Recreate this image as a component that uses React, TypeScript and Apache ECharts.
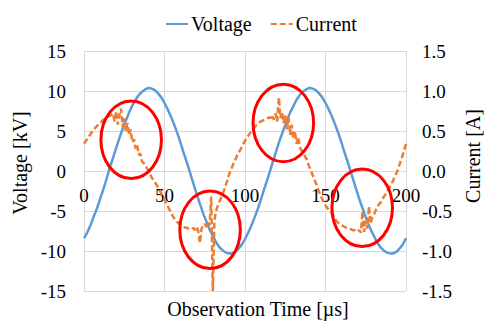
import React, { useEffect, useRef } from "react";
import * as echarts from "echarts";

// Voltage [kV], sampled every 2 µs from 0 to 200 µs
const voltageTimes: number[] = Array.from({ length: 101 }, (_, i) => i * 2);
const voltageValues: number[] = [
  -8.4, -7.7, -6.8, -5.7, -4.7, -3.5, -2.3, -1.0, 0.4, 1.6,
  2.9, 4.1, 5.3, 6.3, 7.3, 8.2, 8.9, 9.5, 9.9, 10.2,
  10.4, 10.3, 10.1, 9.7, 9.2, 8.5, 7.7, 6.8, 5.8, 4.7,
  3.5, 2.2, 1.0, -0.3, -1.6, -2.9, -4.1, -5.3, -6.3, -7.3,
  -8.1, -8.9, -9.5, -9.9, -10.2, -10.3, -10.3, -10.1, -9.7, -9.2,
  -8.5, -7.7, -6.8, -5.8, -4.7, -3.5, -2.2, -1.0, 0.3, 1.6,
  2.9, 4.1, 5.2, 6.3, 7.3, 8.1, 8.9, 9.5, 9.9, 10.2,
  10.4, 10.3, 10.1, 9.7, 9.2, 8.5, 7.7, 6.8, 5.8, 4.7,
  3.5, 2.2, 1.0, -0.3, -1.6, -2.9, -4.1, -5.2, -6.3, -7.3,
  -8.1, -8.9, -9.5, -9.9, -10.2, -10.3, -10.3, -10.1, -9.7, -9.2,
  -8.4,
];

// Current [A], sampled every 1 µs from 0 to 200 µs
const currentTimes: number[] = Array.from({ length: 201 }, (_, i) => i);
const currentValues: number[] = [
  0.34, 0.37, 0.40, 0.43, 0.46, 0.49, 0.52, 0.54, 0.56, 0.58,
  0.60, 0.62, 0.64, 0.65, 0.66, 0.68, 0.69, 0.70, 0.72, 0.62,
  0.75, 0.58, 0.70, 0.78, 0.55, 0.66, 0.50, 0.60, 0.45, 0.52,
  0.36, 0.40, 0.28, 0.33, 0.20, 0.22, 0.12, 0.10, 0.06, 0.04,
  0.00, -0.04, -0.08, -0.11, -0.14, -0.17, -0.21, -0.24, -0.28, -0.32,
  -0.36, -0.40, -0.44, -0.48, -0.52, -0.56, -0.59, -0.62, -0.64, -0.66,
  -0.68, -0.69, -0.70, -0.71, -0.71, -0.72, -0.72, -0.73, -0.71, -0.74,
  -0.70, -0.75, -0.90, -0.72, -0.69, -0.66, -0.70, -0.64, -0.68, -0.32,
  -1.50, -0.62, -0.50, -0.44, -0.39, -0.34, -0.29, -0.24, -0.18, -0.12,
  -0.05, 0.00, 0.05, 0.10, 0.14, 0.19, 0.23, 0.26, 0.30, 0.34,
  0.38, 0.41, 0.44, 0.47, 0.50, 0.53, 0.55, 0.57, 0.59, 0.61,
  0.62, 0.63, 0.64, 0.65, 0.66, 0.67, 0.66, 0.70, 0.64, 0.72,
  0.62, 0.92, 0.66, 0.74, 0.60, 0.70, 0.52, 0.68, 0.45, 0.58,
  0.40, 0.50, 0.34, 0.42, 0.30, 0.26, 0.22, 0.19, 0.16, 0.10,
  0.05, 0.00, -0.05, -0.10, -0.15, -0.20, -0.26, -0.31, -0.35, -0.39,
  -0.43, -0.46, -0.48, -0.50, -0.53, -0.56, -0.60, -0.63, -0.65, -0.66,
  -0.68, -0.69, -0.70, -0.71, -0.72, -0.72, -0.73, -0.74, -0.74, -0.75,
  -0.76, -0.74, -0.77, -0.50, -0.76, -0.62, -0.72, -0.44, -0.66, -0.58,
  -0.55, -0.50, -0.46, -0.42, -0.40, -0.37, -0.33, -0.30, -0.27, -0.23,
  -0.20, -0.16, -0.12, -0.07, -0.03, 0.02, 0.08, 0.14, 0.20, 0.27,
  0.34,
];

// Highlight ellipses: centres in data units [time µs, voltage kV]
const highlightCenters: [number, number][] = [
  [29.3, 3.9],
  [78.3, -7.35],
  [123.8, 6.0],
  [172.8, -4.6],
];
// Half-axes in data units [µs, kV]
const highlightRadii: [number, number] = [18.8, 4.85];

const FONT = "Liberation Serif";

// Grid geometry (px)
const GRID_TOP = 51;
const GRID_BOTTOM = 32;
const CHART_H = 323;
// x axis crosses the y axes at 0 (middle of the symmetric y range)
const X_AXIS_OFFSET = -(CHART_H - GRID_TOP - GRID_BOTTOM) / 2;

export default function App() {
  const ref = useRef<HTMLDivElement>(null);

  useEffect(() => {
    if (!ref.current) return;
    const chart = echarts.init(ref.current, undefined, { renderer: "svg" });

    const option: any = {
      animation: false,
      backgroundColor: "#ffffff",
      textStyle: { fontFamily: FONT },
      legend: {
        top: 9,
        left: 160,
        itemWidth: 22,
        itemHeight: 14,
        itemGap: 18,
        itemStyle: { opacity: 0 },
        textStyle: { fontFamily: FONT, fontSize: 20, color: "#000", padding: [0, 0, 0, -2] },
        data: ["Voltage", "Current"],
      },
      grid: {
        left: 84,
        right: 80,
        top: GRID_TOP,
        bottom: GRID_BOTTOM,
        outerBoundsMode: "none",
        containLabel: false,
      },
      xAxis: {
        type: "value",
        min: 0,
        max: 200,
        interval: 50,
        position: "bottom",
        offset: X_AXIS_OFFSET,
        name: "Observation Time [µs]",
        nameLocation: "middle",
        nameGap: 128,
        nameTextStyle: {
          fontFamily: FONT,
          fontSize: 20,
          color: "#000",
          padding: [0, 0, 0, 26],
        },
        axisLine: { onZero: false, lineStyle: { color: "#D9D9D9", width: 1 } },
        axisTick: { show: false },
        axisLabel: { fontFamily: FONT, fontSize: 19, color: "#000", margin: 15 },
        splitLine: { show: true, lineStyle: { color: "#D9D9D9", width: 1 } },
      },
      yAxis: [
        {
          type: "value",
          min: -15,
          max: 15,
          interval: 5,
          name: "Voltage [kV]",
          nameLocation: "middle",
          nameRotate: 90,
          nameGap: 50,
          nameTextStyle: {
            fontFamily: FONT,
            fontSize: 20,
            color: "#000",
            padding: [0, 0, 0, 16],
          },
          axisLine: { show: false },
          axisTick: { show: false },
          axisLabel: { fontFamily: FONT, fontSize: 19, color: "#000", margin: 18 },
          splitLine: { show: true, lineStyle: { color: "#D9D9D9", width: 1 } },
        },
        {
          type: "value",
          min: -1.5,
          max: 1.5,
          interval: 0.5,
          name: "Current [A]",
          nameLocation: "middle",
          nameRotate: 90,
          nameGap: 56,
          nameTextStyle: {
            fontFamily: FONT,
            fontSize: 20,
            color: "#000",
            padding: [0, 0, 0, 30],
          },
          axisLine: { show: false },
          axisTick: { show: false },
          axisLabel: {
            fontFamily: FONT,
            fontSize: 19,
            color: "#000",
            margin: 16,
            formatter: (v: number) => v.toFixed(1),
          },
          splitLine: { show: false },
        },
      ],
      series: [
        {
          name: "Voltage",
          type: "line",
          yAxisIndex: 0,
          symbol: "none",
          lineStyle: { color: "#5B9BD5", width: 2.5 },
          itemStyle: { color: "#5B9BD5" },
          data: voltageTimes.map((t, i) => [t, voltageValues[i]]),
          z: 2,
        },
        {
          name: "Current",
          type: "line",
          yAxisIndex: 1,
          symbol: "none",
          lineStyle: { color: "#ED7D31", width: 2.5, type: [6, 3] },
          itemStyle: { color: "#ED7D31" },
          data: currentTimes.map((t, i) => [t, currentValues[i]]),
          z: 3,
        },
      ],
    };

    chart.setOption(option);

    const elements = highlightCenters.map(([cx, cy]) => {
      const c = chart.convertToPixel({ xAxisIndex: 0, yAxisIndex: 0 }, [cx, cy]) as number[];
      const e = chart.convertToPixel({ xAxisIndex: 0, yAxisIndex: 0 }, [
        cx + highlightRadii[0],
        cy + highlightRadii[1],
      ]) as number[];
      return {
        type: "ellipse",
        silent: true,
        z: 100,
        shape: { cx: c[0], cy: c[1], rx: Math.abs(e[0] - c[0]), ry: Math.abs(e[1] - c[1]) },
        style: { fill: "transparent", stroke: "#FF0000", lineWidth: 3 },
      };
    });
    chart.setOption({ graphic: elements });

    return () => chart.dispose();
  }, []);

  return (
    <div
      ref={ref}
      style={{ position: "absolute", left: 0, top: 0, width: 486, height: 323 }}
    />
  );
}
